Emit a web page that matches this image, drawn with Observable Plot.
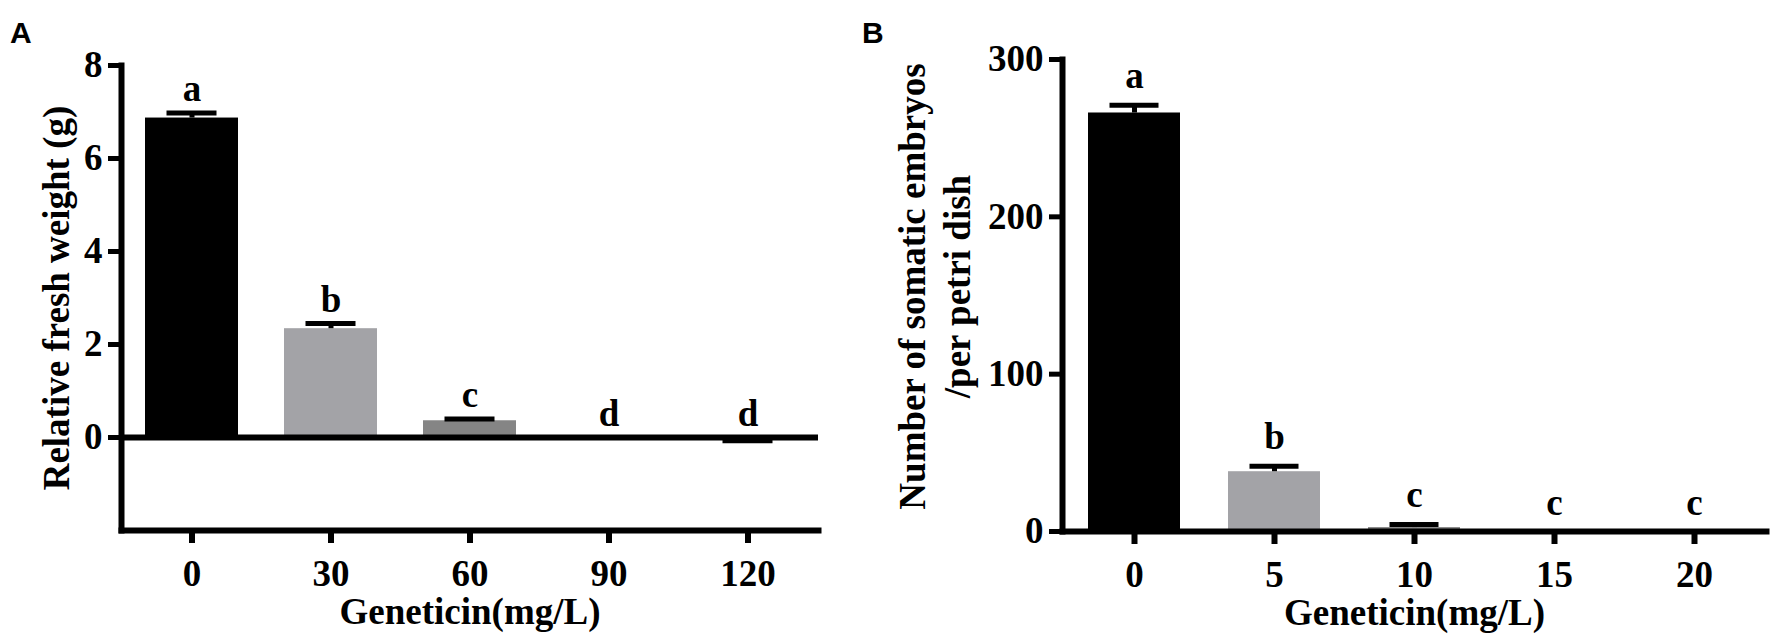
<!DOCTYPE html>
<html><head><meta charset="utf-8">
<script src="https://cdn.jsdelivr.net/npm/d3@7"></script>
<script src="https://cdn.jsdelivr.net/npm/@observablehq/plot@0.6"></script>
<style>
body{margin:0;background:#fff;}
#wrap{position:relative;width:1775px;height:637px;display:flex;}
.panel-label{position:absolute;font-family:"Liberation Sans",Arial,sans-serif;font-weight:bold;font-size:30px;line-height:30px;color:#000;}
svg text{font-family:"Liberation Serif","Times New Roman",serif;font-weight:bold;}
</style></head><body>
<div id="wrap">
<div class="panel-label" style="left:10px;top:18px">A</div>
<div class="panel-label" style="left:862px;top:18px">B</div>
</div>
<script>
// Panel A data
const doseA = ["0", "30", "60", "90", "120"];
const weightMean = [6.87, 2.34, 0.36, 0, -0.03];
const weightErr = [0.11, 0.11, 0.04, 0, 0.04];
const lettersA = ["a", "b", "c", "d", "d"];
const yTicksA = [0, 2, 4, 6, 8];

// Panel B data
const doseB = ["0", "5", "10", "15", "20"];
const embryoMean = [266, 38, 2.5, 0, 0];
const embryoErr = [5, 3.5, 2, 0, 0];
const lettersB = ["a", "b", "c", "c", "c"];
const yTicksB = [0, 100, 200, 300];

// Texts
const xTitle = "Geneticin(mg/L)";
const yTitleA = "Relative fresh weight (g)";
const yTitleB1 = "Number of somatic embryos";
const yTitleB2 = "/per petri dish";

// Styles
const fillA = ["#000000", "#a3a3a7", "#858585", "#6a6a6a", "#6a6a6a"];
const fillB = ["#000000", "#a3a3a7", "#858585", "#6a6a6a", "#6a6a6a"];

function rowsOf(doses, means, errs, letters) {
  return doses.map((d, i) => {
    const cap = means[i] + (means[i] < 0 ? -errs[i] : errs[i]);
    return {dose: d, mean: means[i], cap, labelY: Math.max(cap, 0), letter: letters[i]};
  });
}

function panel(o) {
  const rows = rowsOf(o.doses, o.means, o.errs, o.letters);
  const font = {fontSize: 37, fontWeight: "bold", fontFamily: "Liberation Serif"};
  return Plot.plot({
    width: o.width, height: 637,
    marginLeft: o.ml, marginRight: o.mr, marginTop: o.mt, marginBottom: o.mb,
    style: {background: "white", fontFamily: "Liberation Serif", fontWeight: "bold", fontSize: "37px", overflow: "visible"},
    x: {domain: o.doses, paddingInner: o.pad, paddingOuter: o.pad / 2, axis: null},
    y: {domain: o.yDomain, axis: null},
    color: {domain: o.doses, range: o.fills},
    marks: [
      Plot.barY(rows, {x: "dose", y: "mean", fill: "dose"}),
      Plot.ruleX(rows, {x: "dose", y1: "mean", y2: "cap", strokeWidth: 5}),
      Plot.tickY(rows, {x: "dose", y: "cap", strokeWidth: 5, insetLeft: 21.5, insetRight: 21.5}),
      o.zeroLine ? Plot.ruleY([0], {strokeWidth: 6}) : null,
      Plot.frame({anchor: "left", strokeWidth: 6, strokeLinecap: "square"}),
      Plot.frame({anchor: "bottom", strokeWidth: 6, strokeLinecap: "square"}),
      Plot.axisY({ticks: o.yTicks, tickSize: 13, tickPadding: 6, strokeWidth: 5, label: null, ...font}),
      Plot.axisX({tickSize: 13, tickPadding: 16, strokeWidth: 6, label: null, ...font}),
      Plot.text(rows, {x: "dose", y: "labelY", text: "letter", dy: o.labelDy, lineAnchor: "bottom", ...font}),
      Plot.text([xTitle], {frameAnchor: "bottom", textAnchor: "middle", dy: 93, lineAnchor: "bottom", ...font}),
      ...o.yTitles.map(t => Plot.text([t.text], {frameAnchor: "left", textAnchor: "middle", rotate: -90, dx: t.dx, dy: o.yTitleDy, lineAnchor: "bottom", ...font}))
    ]
  });
}

const chartA = panel({
  doses: doseA, means: weightMean, errs: weightErr, letters: lettersA, fills: fillA,
  yDomain: [-2, 8], yTicks: yTicksA, width: 880, ml: 121, mr: 62, mt: 65, mb: 107,
  pad: 0.33, labelDy: -12, zeroLine: true, yTitleDy: 0,
  yTitles: [{text: yTitleA, dx: -53}]
});
const chartB = panel({
  doses: doseB, means: embryoMean, errs: embryoErr, letters: lettersB, fills: fillB,
  yDomain: [0, 300], yTicks: yTicksB, width: 895, ml: 182, mr: 9, mt: 59, mb: 106,
  pad: 0.345, labelDy: -17, zeroLine: false, yTitleDy: -9,
  yTitles: [{text: yTitleB1, dx: -138}, {text: yTitleB2, dx: -93}]
});
const wrap = document.getElementById("wrap");
wrap.appendChild(chartA);
wrap.appendChild(chartB);
</script>
</body></html>
